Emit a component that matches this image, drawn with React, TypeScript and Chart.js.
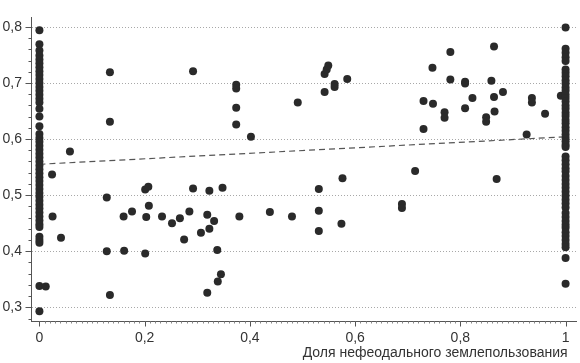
import React, { useEffect, useRef } from "react";
import { Chart, registerables } from "chart.js";

Chart.register(...registerables);

const yTicks = [0.3, 0.4, 0.5, 0.6, 0.7, 0.8];
const xTicks = [0, 0.2, 0.4, 0.6, 0.8, 1];
const xAxisTitle = "Доля нефеодального землепользования";

// Observations with share = 0
const leftColumnY = [
  0.794, 0.769, 0.758,
  0.749, 0.742, 0.735, 0.728, 0.721, 0.714, 0.707, 0.7, 0.693, 0.686, 0.679, 0.672, 0.665,
  0.654, 0.64, 0.623,
  0.609, 0.602, 0.595, 0.588, 0.581, 0.574, 0.567, 0.56, 0.553, 0.546, 0.539, 0.532, 0.525,
  0.518, 0.511, 0.504, 0.497, 0.49, 0.483, 0.476, 0.469, 0.462, 0.455, 0.448, 0.443,
  0.426, 0.42, 0.415,
  0.338, 0.293,
];

// Observations with share = 1
const rightColumnY = [
  0.799, 0.761, 0.754, 0.746, 0.739,
  0.724, 0.718, 0.712, 0.705, 0.699, 0.692, 0.686, 0.679, 0.673, 0.667, 0.66, 0.654, 0.647,
  0.641, 0.634, 0.628, 0.621, 0.615, 0.608, 0.602, 0.596, 0.59, 0.586,
  0.569, 0.562, 0.555, 0.548, 0.542,
  0.534, 0.527, 0.52, 0.513, 0.506, 0.499, 0.492, 0.485, 0.478,
  0.468, 0.461, 0.454, 0.447, 0.442,
  0.434, 0.427, 0.42, 0.413, 0.407,
  0.388, 0.342,
];

// Observations with intermediate shares
const middleX = [
  0.012, 0.024, 0.058, 0.025, 0.041, 0.134, 0.134, 0.128, 0.128, 0.134,
  0.16, 0.161, 0.176, 0.201, 0.207, 0.208, 0.203, 0.201, 0.233, 0.252,
  0.267, 0.275, 0.285, 0.292, 0.292, 0.319, 0.323, 0.332, 0.323, 0.307,
  0.348, 0.338, 0.345, 0.339, 0.319, 0.374, 0.374, 0.374, 0.374, 0.402,
  0.38, 0.438, 0.48, 0.491, 0.531, 0.531, 0.531, 0.542, 0.542, 0.546,
  0.549, 0.561, 0.561, 0.585, 0.576, 0.574, 0.689, 0.689, 0.714, 0.73,
  0.73, 0.747, 0.748, 0.77, 0.77, 0.781, 0.781, 0.809, 0.809, 0.809,
  0.823, 0.849, 0.849, 0.864, 0.859, 0.881, 0.864, 0.865, 0.869, 0.926,
  0.936, 0.936, 0.961, 0.991,
];
const middleY = [
  0.337, 0.537, 0.578, 0.462, 0.424, 0.719, 0.631, 0.496, 0.4, 0.322,
  0.462, 0.401, 0.471, 0.51, 0.515, 0.481, 0.461, 0.396, 0.462, 0.45,
  0.459, 0.421, 0.471, 0.721, 0.512, 0.465, 0.508, 0.454, 0.44, 0.433,
  0.513, 0.402, 0.359, 0.346, 0.326, 0.697, 0.69, 0.656, 0.626, 0.604,
  0.462, 0.47, 0.462, 0.665, 0.511, 0.472, 0.436, 0.684, 0.716, 0.724,
  0.731, 0.698, 0.693, 0.707, 0.53, 0.449, 0.484, 0.477, 0.543, 0.668,
  0.618, 0.727, 0.663, 0.648, 0.638, 0.755, 0.706, 0.702, 0.699, 0.655,
  0.673, 0.639, 0.631, 0.765, 0.704, 0.684, 0.675, 0.649, 0.529, 0.608,
  0.673, 0.665, 0.645, 0.677,
];

// Linear fit
const trendX = [0, 1];
const trendY = [0.555, 0.604];

const FONT = "'Liberation Sans Narrow', 'Liberation Sans', Arial, sans-serif";

const fmt = (v: number) => {
  const r = Math.round(v * 10) / 10;
  if (r === 0 || r === 1) return String(r);
  return r.toFixed(1).replace(".", ",");
};

const axesPlugin = {
  id: "axesDecor",
  beforeDatasetsDraw(chart: any) {
    const { ctx, chartArea, scales } = chart;
    const xs = scales.x;
    const ys = scales.y;
    ctx.save();
    // dotted horizontal grid
    ctx.strokeStyle = "#a8a8a8";
    ctx.lineWidth = 1;
    ctx.setLineDash([1, 2]);
    yTicks.forEach((v) => {
      const y = Math.round(ys.getPixelForValue(v)) + 0.5;
      ctx.beginPath();
      ctx.moveTo(chartArea.left + 1, y);
      ctx.lineTo(chartArea.right, y);
      ctx.stroke();
    });
    ctx.setLineDash([]);
    // y ticks
    ctx.strokeStyle = "#555";
    const yl = Math.round(chartArea.left) + 0.5;
    for (let i = 28; i <= 80; i += 2) {
      const v = i / 100;
      if (v < ys.min || v > ys.max) continue;
      const y = Math.round(ys.getPixelForValue(v)) + 0.5;
      const major = i % 10 === 0;
      ctx.beginPath();
      ctx.moveTo(yl - (major ? 6 : 3), y);
      ctx.lineTo(yl, y);
      ctx.stroke();
    }
    // x ticks
    const xb = Math.round(chartArea.bottom) + 0.5;
    ctx.strokeStyle = "#888";
    for (let i = 0; i <= 100; i += 1) {
      const x = Math.round(xs.getPixelForValue(i / 100)) + 0.5;
      ctx.beginPath();
      ctx.moveTo(x, xb);
      ctx.lineTo(x, xb + 2);
      ctx.stroke();
    }
    ctx.strokeStyle = "#555";
    xTicks.forEach((v) => {
      const x = Math.round(xs.getPixelForValue(v)) + 0.5;
      ctx.beginPath();
      ctx.moveTo(x, xb);
      ctx.lineTo(x, xb + 5);
      ctx.stroke();
    });
    ctx.restore();
  },
  afterDraw(chart: any) {
    const { ctx, scales } = chart;
    const xs = scales.x;
    ctx.save();
    ctx.fillStyle = "#333";
    ctx.font = `14px ${FONT}`;
    ctx.textAlign = "right";
    ctx.textBaseline = "middle";
    ctx.fillText(xAxisTitle, xs.getPixelForValue(1) + 2, 353);
    ctx.restore();
  },
};

export default function App() {
  const ref = useRef<HTMLCanvasElement | null>(null);

  useEffect(() => {
    document.body.style.margin = "0";
    if (!ref.current) return;

    const points = [
      ...leftColumnY.map((y) => ({ x: 0, y })),
      ...middleX.map((x, i) => ({ x, y: middleY[i] })),
      ...rightColumnY.map((y) => ({ x: 1, y })),
    ];
    const trend = trendX.map((x, i) => ({ x, y: trendY[i] }));

    const chart = new Chart(ref.current, {
      type: "scatter",
      data: {
        datasets: [
          {
            type: "line",
            data: trend,
            borderColor: "#555",
            borderWidth: 1.2,
            borderDash: [6, 4],
            pointRadius: 0,
            fill: false,
            order: 2,
          } as any,
          {
            data: points,
            pointRadius: 4,
            pointHoverRadius: 4,
            backgroundColor: "#2a2a2a",
            borderWidth: 0,
            order: 1,
          },
        ],
      },
      options: {
        animation: false,
        responsive: true,
        maintainAspectRatio: false,
        layout: { padding: { top: 0, right: 0, left: 0, bottom: 0 } },
        plugins: { legend: { display: false }, tooltip: { enabled: false } },
        scales: {
          x: {
            type: "linear",
            min: -0.016,
            max: 1.0198,
            afterBuildTicks: (s: any) => {
              s.ticks = xTicks.map((v) => ({ value: v }));
            },
            afterFit: (s: any) => {
              s.height = 42;
            },
            grid: { display: false, drawTicks: false },
            border: { display: true, color: "#555", width: 1 },
            ticks: {
              padding: 9,
              color: "#333",
              font: { family: FONT, size: 14 },
              maxRotation: 0,
              autoSkip: false,
              callback: (v: any) => fmt(Number(v)),
            },
          },
          y: {
            type: "linear",
            min: 0.2756,
            max: 0.8169,
            afterBuildTicks: (s: any) => {
              s.ticks = yTicks.map((v) => ({ value: v }));
            },
            afterFit: (s: any) => {
              s.width = 31;
            },
            grid: { display: false, drawTicks: false },
            border: { display: true, color: "#555", width: 1 },
            ticks: {
              padding: 9,
              color: "#333",
              font: { family: FONT, size: 14 },
              autoSkip: false,
              callback: (v: any) => fmt(Number(v)),
            },
          },
        },
      },
      plugins: [axesPlugin],
    });
    return () => chart.destroy();
  }, []);

  return (
    <div style={{ width: 580, height: 363, position: "relative" }}>
      <canvas ref={ref} />
    </div>
  );
}
